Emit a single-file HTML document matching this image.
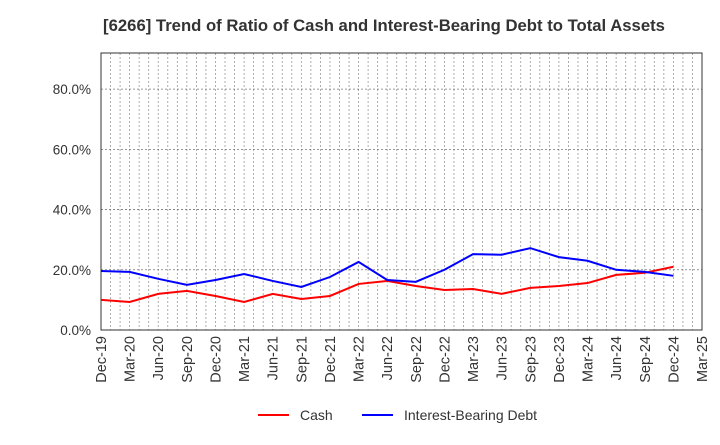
<!DOCTYPE html>
<html><head><meta charset="utf-8"><style>
body{margin:0;background:#fff;font-family:"Liberation Sans",sans-serif;}
</style></head><body>
<svg id="chart" width="720" height="440" xmlns="http://www.w3.org/2000/svg" font-family="Liberation Sans, sans-serif">
<text x="384" y="31" text-anchor="middle" font-size="16.7" font-weight="bold" fill="#333">[6266]  Trend of Ratio of Cash and Interest-Bearing Debt to Total Assets</text>
<g id="grid"></g><g id="axes"></g><g id="series"></g>
<g>
<line x1="258" y1="415" x2="289" y2="415" stroke="#f00" stroke-width="2"/>
<text x="300" y="420" font-size="14" fill="#333">Cash</text>
<line x1="362" y1="415" x2="393" y2="415" stroke="#00f" stroke-width="2"/>
<text x="404" y="420" font-size="14" fill="#333">Interest-Bearing Debt</text>
</g>
</svg>
<script>
const categories=["Dec-19","Mar-20","Jun-20","Sep-20","Dec-20","Mar-21","Jun-21","Sep-21","Dec-21","Mar-22","Jun-22","Sep-22","Dec-22","Mar-23","Jun-23","Sep-23","Dec-23","Mar-24","Jun-24","Sep-24","Dec-24","Mar-25"];
const cash=[10,9.3,12,13,11.3,9.3,12,10.3,11.3,15.3,16.3,14.6,13.3,13.6,12,14,14.6,15.6,18.3,19,21];
const debt=[19.6,19.3,17,15,16.6,18.6,16.3,14.3,17.6,22.6,16.6,16,20,25.2,25,27.2,24.2,23,20,19.3,18];
const yTicks=[0,20,40,60,80];
const L=101,R=702,T=53,B=330,yMax=92;
const NS="http://www.w3.org/2000/svg";
const x=i=>L+(R-L)*i/(categories.length-1);
const y=v=>B-(B-T)*v/yMax;
function mk(tag,attrs,parent){const e=document.createElementNS(NS,tag);for(const k in attrs)e.setAttribute(k,attrs[k]);parent.appendChild(e);return e;}
const grid=document.getElementById('grid'),axes=document.getElementById('axes'),series=document.getElementById('series');
const months=(categories.length-1)*3;
for(let m=1;m<months;m++){const xx=L+(R-L)*m/months;const g=mk('line',{x1:xx,x2:xx,y1:T,y2:B,stroke:'#999','stroke-width':0.8,'stroke-dasharray':'2,2'},grid);

}
yTicks.forEach(v=>{if(v>0){const g=mk('line',{x1:L,x2:R,y1:y(v),y2:y(v),stroke:'#777','stroke-width':0.8,'stroke-dasharray':'2,2'},grid);

}
const t=mk('text',{x:L-10,y:y(v)+5,'text-anchor':'end','font-size':13.5,fill:'#333'},axes);t.textContent=v.toFixed(1)+'%';

});
const frame=mk('rect',{x:L,y:T,width:R-L,height:B-T,fill:'none',stroke:'#333','stroke-width':1},axes);


categories.forEach((c,i)=>{const t=mk('text',{x:0,y:0,'text-anchor':'end','font-size':14.5,fill:'#333',transform:`translate(${x(i)+5},${B+6}) rotate(-90)`},axes);t.textContent=c;

});
function line(arr,color,name){const p=mk('polyline',{points:arr.map((v,i)=>x(i)+','+y(v)).join(' '),fill:'none',stroke:color,'stroke-width':2},series);

}
line(cash,'#f00','cash-line');
line(debt,'#00f','debt-line');
</script>
</body></html>
